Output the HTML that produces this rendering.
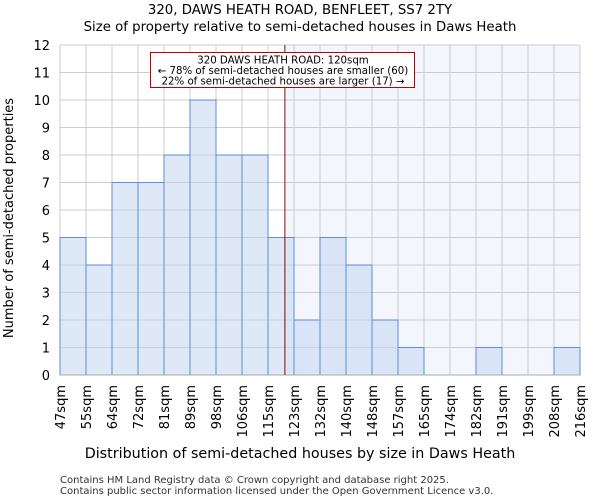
<!DOCTYPE html>
<html><head><meta charset="utf-8"><style>
body{margin:0;background:#fff;font-family:"DejaVu Sans","Liberation Sans",sans-serif}
</style></head><body>
<svg id="chart" width="600" height="500" xmlns="http://www.w3.org/2000/svg" font-family="DejaVu Sans, Liberation Sans, sans-serif">
<text x="300" y="14" text-anchor="middle" font-size="13.3">320, DAWS HEATH ROAD, BENFLEET, SS7 2TY</text>
<text x="300" y="31" text-anchor="middle" font-size="13.3">Size of property relative to semi-detached houses in Daws Heath</text>
<g id="plot"></g>
<text x="300" y="458" text-anchor="middle" font-size="14.3">Distribution of semi-detached houses by size in Daws Heath</text>
<text transform="translate(13,218) rotate(-90)" text-anchor="middle" font-size="13">Number of semi-detached properties</text>
<text x="60" y="483" font-size="10" fill="#333">Contains HM Land Registry data © Crown copyright and database right 2025.</text>
<text x="60" y="494" font-size="10" fill="#333">Contains public sector information licensed under the Open Government Licence v3.0.</text>
</svg>
<script>
const binLabels=["47sqm","55sqm","64sqm","72sqm","81sqm","89sqm","98sqm","106sqm","115sqm","123sqm","132sqm","140sqm","148sqm","157sqm","165sqm","174sqm","182sqm","191sqm","199sqm","208sqm","216sqm"];
const counts=[5,4,7,7,8,10,8,8,5,2,5,4,2,1,0,0,1,0,0,1];
const yTicks=[0,1,2,3,4,5,6,7,8,9,10,11,12];
const markerIndex=8.65;
const L=60,R=580,T=45,B=375,yMax=12;
const n=counts.length,bw=(R-L)/n;
const xs=i=>L+i*bw, ys=v=>B-(v/yMax)*(B-T);
const ns="http://www.w3.org/2000/svg",g=document.getElementById('plot');
function mk(t,a){const e=document.createElementNS(ns,t);for(const k in a)e.setAttribute(k,a[k]);g.appendChild(e);return e;}
let e=mk('rect',{x:xs(markerIndex)+1.5,y:T,width:R-xs(markerIndex)-1.5,height:B-T,fill:'#f3f6fd'});


yTicks.forEach(v=>{const l=mk('line',{x1:L,x2:R,y1:ys(v),y2:ys(v),stroke:'#cccccc'});


const t=mk('text',{x:L-10,y:ys(v)+5,'text-anchor':'end','font-size':13});t.textContent=v;

});
binLabels.forEach((s,i)=>{const x=xs(i);const l=mk('line',{x1:x,x2:x,y1:T,y2:B,stroke:'#cccccc'});


const t=mk('text',{transform:`translate(${x+5},${B+10}) rotate(-90)`,'text-anchor':'end','font-size':13});t.textContent=s;

});
counts.forEach((c,i)=>{const r=mk('rect',{x:xs(i),y:ys(c),width:bw,height:B-ys(c),fill:'#c3d5f0','fill-opacity':0.55,stroke:'#5b8fd6','stroke-width':1});

});
e=mk('line',{x1:L,x2:R,y1:B,y2:B,stroke:'#aaa'});


e=mk('line',{x1:xs(markerIndex),x2:xs(markerIndex),y1:T,y2:B,stroke:'#8b0000','stroke-width':1});


e=mk('rect',{x:150.5,y:52.5,width:264,height:35,fill:'#fff',stroke:'#c00000'});


["320 DAWS HEATH ROAD: 120sqm","← 78% of semi-detached houses are smaller (60)","22% of semi-detached houses are larger (17) →"].forEach((s,i)=>{const t=mk('text',{x:283,y:63.5+i*10.5,'text-anchor':'middle','font-size':10.2});t.textContent=s;

});
</script>
</body></html>
